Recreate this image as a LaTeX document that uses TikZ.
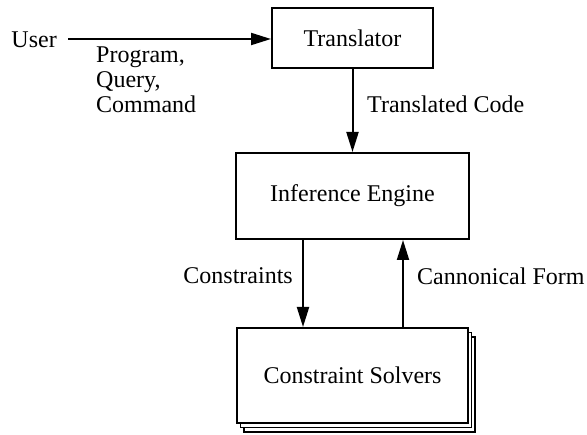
\documentclass[tikz,border=0pt]{standalone}
\usepackage{fontspec}
\setmainfont{Liberation Serif}
\usetikzlibrary{arrows.meta}
\begin{document}
\begin{tikzpicture}[x=1pt,y=-1pt,
  every node/.style={font=\fontsize{24}{25}\selectfont, inner sep=0pt},
  block/.style={draw, line width=2pt, fill=white, minimum width=#1, align=center},
  flow/.style={line width=2pt, -{Triangle[length=20pt,width=12pt]}}]
  \useasboundingbox (0,0) rectangle (587,435);

  % blocks
  \node[block=161pt, minimum height=60pt] (tr) at (352.5,38) {Translator};
  \node[block=233pt, minimum height=86pt] (ie) at (352.5,196) {Inference Engine};
  % stacked solver boxes (back copies first)
  \node[block=231pt, minimum height=95pt, line width=1.5pt] (cs2) at (359.5,384.5) {};
  \node[block=231pt, minimum height=95pt, line width=1.5pt] (cs1) at (356,380) {};
  \node[block=231pt, minimum height=95pt] (cs) at (352.5,375.5) {Constraint Solvers};

  % labels
  \node[anchor=east] (user) at (57,40) {User};
  \coordinate (ustart) at (68,39);
  \node[anchor=north west, align=left] (pqc) at (96,47) {Program,\\Query,\\Command};
  \node[anchor=west] (tc) at (367,104) {Translated Code};
  \node[anchor=east] (con) at (293,276) {Constraints};
  \node[anchor=west] (cf) at (417,276) {Cannonical Form};

  % connectors
  \draw[flow] (ustart) -- (tr.west |- ustart);
  \draw[flow] (tr.south) -- (ie.north);
  \draw[flow] (ie.south -| 303,0) -- (cs.north -| 303,0);
  \draw[flow] (cs.north -| 403,0) -- (ie.south -| 403,0);
\end{tikzpicture}
\end{document}
